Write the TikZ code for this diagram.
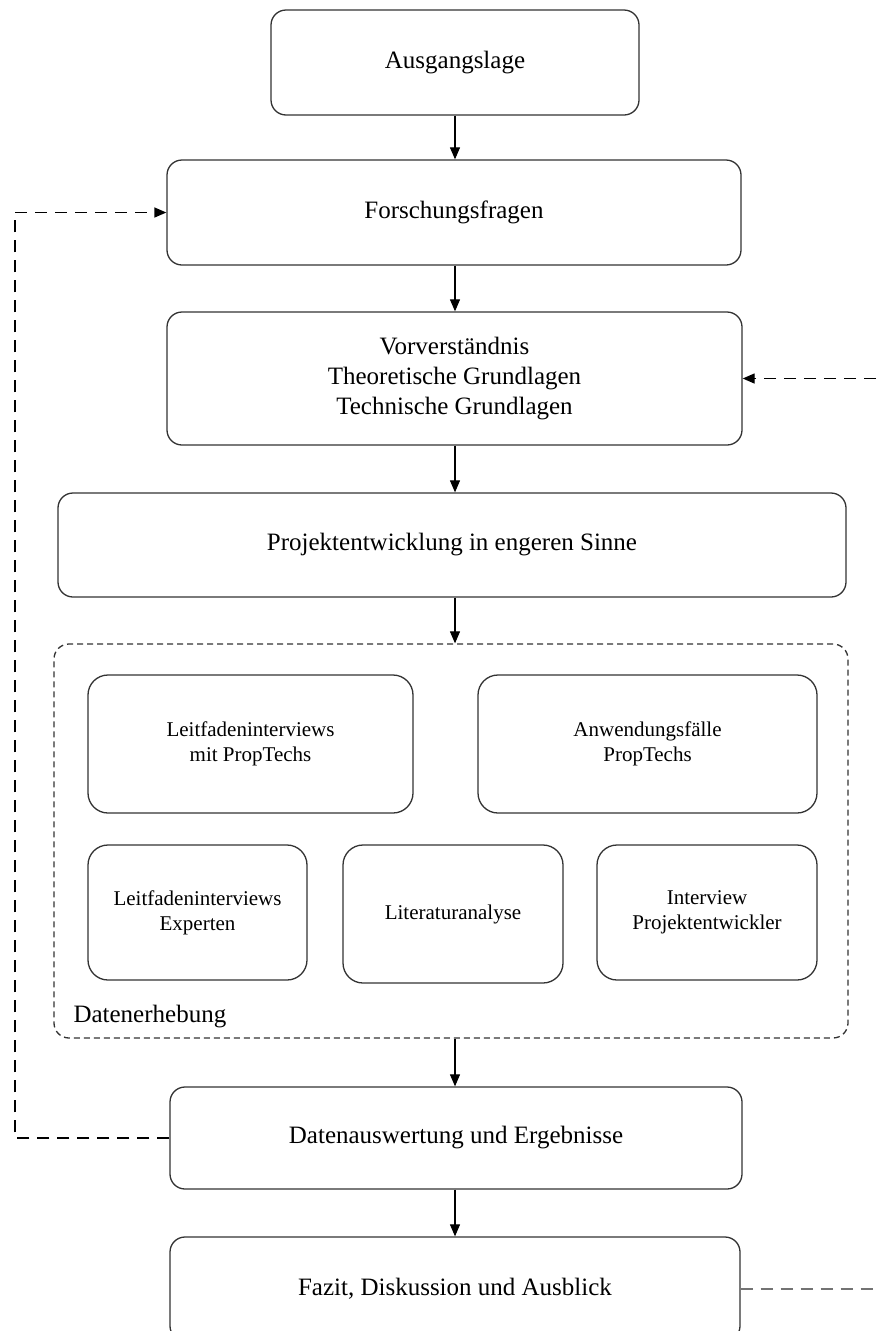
\documentclass[tikz,border=0pt]{standalone}
\usepackage{fontspec}
\setmainfont{Liberation Serif}
\usetikzlibrary{arrows.meta, positioning, calc}
\definecolor{linec}{HTML}{333333}
\tikzset{
  phase/.style={rectangle, rounded corners=15pt, draw=linec, line width=1.3pt,
                align=center, inner sep=0pt, font=\fontsize{25}{30}\selectfont},
  method/.style={phase, rounded corners=20pt, font=\fontsize{21}{25}\selectfont},
  flow/.style={-{Triangle[length=12pt,width=10pt]}, line width=1.1pt},
  feedback/.style={line width=1.3pt, dash pattern=on 12pt off 8pt},
}
\newcommand{\phasebox}[6]{%
  \node[#5, minimum width=#3pt, minimum height=#4pt] (#1) at #2 {#6};
}

\begin{document}
\begin{tikzpicture}[x=1pt, y=-1pt]
  \useasboundingbox (0,0) rectangle (876,1331);
  \phasebox{aus}{(455,62.5)}{368}{105}{phase}{Ausgangslage}
  \phasebox{fra}{(454,212.5)}{574}{105}{phase}{Forschungsfragen}
  \phasebox{vor}{(454.5,378.5)}{575}{133}{phase}{Vorverständnis\\Theoretische Grundlagen\\Technische Grundlagen}
  \phasebox{pro}{(452,545)}{788}{104}{phase}{Projektentwicklung in engeren Sinne}
  % Datenerhebung
  \node[draw=linec, line width=1.3pt, dash pattern=on 6pt off 4pt,
        rounded corners=15pt, minimum width=794pt, minimum height=394pt,
        inner sep=0pt] (erh) at (451,841) {};
  \phasebox{lpt}{(250.5,744)}{325}{138}{method}{Leitfadeninterviews\\mit PropTechs}
  \phasebox{anw}{(647.5,744)}{339}{138}{method}{Anwendungsfälle\\PropTechs}
  \phasebox{lex}{(197.5,912.5)}{219}{135}{method}{Leitfadeninterviews\\Experten}
  \phasebox{lit}{(453,914)}{220}{138}{method}{Literaturanalyse}
  \phasebox{ipe}{(707,912.5)}{220}{135}{method}{Interview\\Projektentwickler}
  \node[anchor=west, font=\fontsize{25}{30}\selectfont] (erhlabel) at (70,1017) {Datenerhebung};
  \phasebox{dat}{(456,1138)}{572}{102}{phase}{Datenauswertung und Ergebnisse}
  \phasebox{faz}{(455,1289)}{570}{104}{phase}{Fazit, Diskussion und Ausblick}
  \coordinate (axis) at (455,0);
  \foreach \a/\b in {aus/fra, fra/vor, vor/pro, pro/erh, erh/dat, dat/faz}
    \draw[flow] (\a.south -| axis) -- (\b.north -| axis);
  % Rueckkopplungen
  \coordinate (lft) at (15,1138);
  \coordinate (rgt) at (876,378.5);
  \coordinate (rgb) at (876,1289);
  \draw[feedback, -{Triangle[length=12pt,width=10pt]}]
    (dat.west) -- (lft) |- (fra.west);
  \draw[feedback, -{Triangle[length=12pt,width=10pt]}] (rgt) -- (vor.east);
  \draw[feedback, black!55] (faz.east) -- (rgb);
\end{tikzpicture}
\end{document}
